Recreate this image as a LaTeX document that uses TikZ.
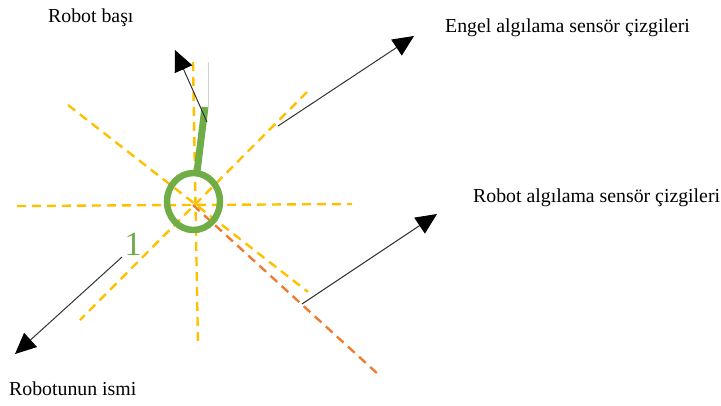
\documentclass[tikz,border=0pt]{standalone}
\usepackage{fontspec}
\setmainfont{Liberation Serif}
\usetikzlibrary{arrows.meta}
\definecolor{sensoryellow}{RGB}{255,192,0}
\definecolor{sensororange}{RGB}{237,125,49}
\definecolor{robotgreen}{RGB}{112,173,71}
\tikzset{
  sensorline/.style={draw=sensoryellow, line width=2.4pt, dash pattern=on 9pt off 6pt},
  robotsensor/.style={draw=sensororange, line width=2.4pt, dash pattern=on 9pt off 6pt},
  pointer/.style={draw=black!80, line width=1pt, -{Triangle[length=21pt,width=19pt,color=black]}},
  caption/.style={font=\fontsize{19.8}{23}\selectfont, inner sep=0pt, anchor=base west}
}
\begin{document}
\begin{tikzpicture}[x=1pt,y=-1pt]
\useasboundingbox (0,0) rectangle (721,405);

% sensor rays around the robot
\draw[sensorline] (17,206) -- (352,204);
\draw[sensorline] (193,62) -- (198,347);
\draw[sensorline] (68,105) -- (308,292);
\draw[sensorline] (307,92) -- (80,320);
\draw[robotsensor] (193,205) -- (379,375);

% robot body and head
\draw[gray!35, line width=0.8pt] (208,62) -- (208,107);
\draw[robotgreen, line width=7pt] (205,107) -- (197,172);
\draw[robotgreen, line width=6.5pt] (193.5,201.5) ellipse [x radius=26.5, y radius=28.5];

% robot name
\node[text=robotgreen, font=\fontsize{34}{40}\selectfont, inner sep=0pt, anchor=base] (name) at (133,255) {1};

% captions
\node[caption] (head) at (48,22) {Robot başı};
\node[caption] (obst) at (445,32) {Engel algılama sensör çizgileri};
\node[caption] (rsens) at (473,202) {Robot algılama sensör çizgileri};
\node[caption] (rname) at (9,395) {Robotunun ismi};

% pointer start and tip points
\coordinate (headS) at (207,122);
\coordinate (headT) at (175,50);
\coordinate (obstS) at (278,126);
\coordinate (obstT) at (414,36);
\coordinate (rsensS) at (302,304);
\coordinate (rsensT) at (437,214);
\coordinate (rnameS) at (122,257);
\coordinate (rnameT) at (15,354);

\draw[pointer] (headS) -- (headT);
\draw[pointer] (obstS) -- (obstT);
\draw[pointer] (rsensS) -- (rsensT);
\draw[pointer] (rnameS) -- (rnameT);
\end{tikzpicture}
\end{document}
